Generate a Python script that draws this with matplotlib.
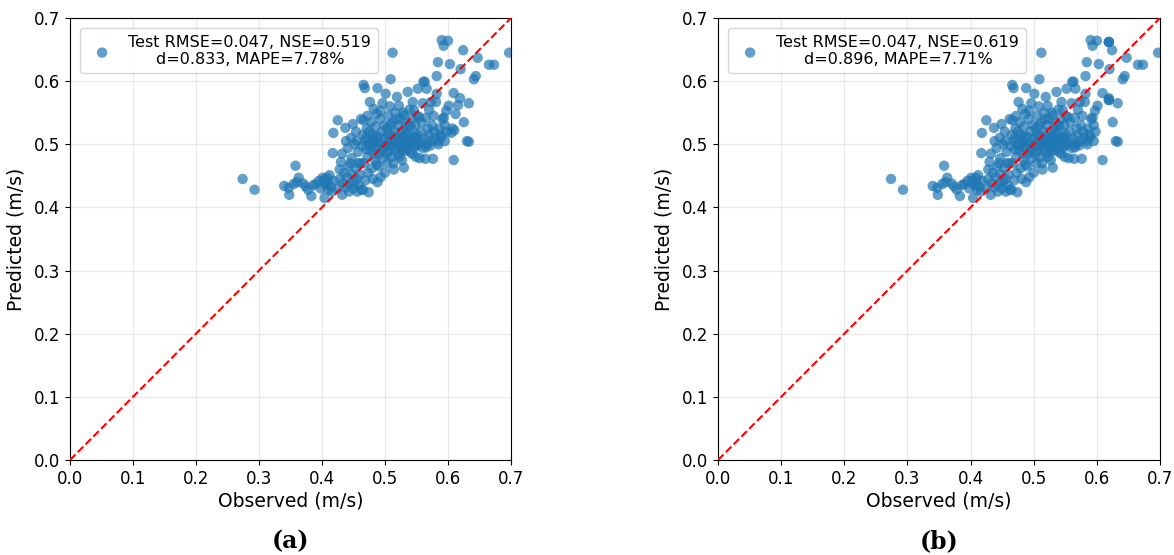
import matplotlib
matplotlib.use("Agg")
import matplotlib.pyplot as plt

# Observed / predicted values
points_a = [
    # left sparse part
    (0.274,0.445),(0.293,0.428),(0.340,0.434),(0.347,0.431),(0.348,0.420),(0.358,0.466),(0.360,0.440),
    (0.363,0.447),(0.370,0.438),(0.374,0.433),(0.383,0.418),(0.390,0.437),(0.395,0.442),(0.398,0.430),
    (0.401,0.447),(0.404,0.415),(0.405,0.436),(0.409,0.439),(0.410,0.428),(0.412,0.451),(0.414,0.433),
    (0.417,0.486),(0.418,0.518),(0.418,0.442),(0.416,0.425),(0.403,0.443),(0.408,0.447),(0.386,0.435),
    (0.378,0.428),(0.355,0.437),
    # 0.42 - 0.46
    (0.425,0.538),(0.425,0.430),(0.428,0.445),(0.430,0.472),(0.432,0.420),(0.433,0.438),(0.435,0.455),
    (0.437,0.526),(0.438,0.432),(0.440,0.448),(0.441,0.494),(0.442,0.465),(0.443,0.425),(0.445,0.438),
    (0.446,0.510),(0.447,0.478),(0.448,0.452),(0.450,0.430),(0.451,0.440),(0.452,0.500),(0.453,0.462),
    (0.454,0.520),(0.455,0.445),(0.456,0.425),(0.457,0.488),(0.458,0.470),(0.459,0.435),(0.460,0.452),
    (0.438,0.505),(0.428,0.460),(0.432,0.485),(0.445,0.470),(0.449,0.532),(0.455,0.505),
    # 0.46 - 0.50
    (0.462,0.540),(0.463,0.428),(0.464,0.497),(0.465,0.428),(0.466,0.538),(0.466,0.594),(0.467,0.470),
    (0.468,0.589),(0.469,0.443),(0.470,0.510),(0.471,0.525),(0.472,0.480),(0.473,0.455),(0.474,0.424),
    (0.475,0.500),(0.476,0.567),(0.477,0.490),(0.478,0.535),(0.479,0.462),(0.480,0.515),(0.481,0.445),
    (0.482,0.556),(0.483,0.505),(0.484,0.475),(0.485,0.528),(0.486,0.495),(0.487,0.548),(0.488,0.589),
    (0.488,0.440),(0.489,0.512),(0.490,0.465),(0.491,0.485),(0.492,0.540),(0.493,0.553),(0.493,0.448),
    (0.494,0.502),(0.495,0.520),(0.496,0.565),(0.497,0.478),(0.498,0.495),(0.499,0.530),(0.500,0.510),
    (0.500,0.455),(0.465,0.515),(0.470,0.492),(0.475,0.520),(0.480,0.505),(0.485,0.512),(0.490,0.500),
    (0.478,0.498),(0.468,0.505),(0.483,0.485),(0.495,0.490),(0.472,0.545),(0.461,0.470),(0.487,0.468),
    # 0.50 - 0.56
    (0.501,0.580),(0.502,0.498),(0.503,0.525),(0.504,0.470),(0.505,0.545),(0.506,0.505),(0.507,0.490),
    (0.508,0.560),(0.509,0.603),(0.510,0.515),(0.511,0.480),(0.512,0.645),(0.512,0.535),(0.513,0.500),
    (0.514,0.460),(0.515,0.520),(0.516,0.550),(0.517,0.492),(0.518,0.510),(0.519,0.575),(0.520,0.485),
    (0.521,0.530),(0.522,0.561),(0.523,0.505),(0.524,0.540),(0.525,0.495),(0.526,0.520),(0.527,0.475),
    (0.528,0.512),(0.529,0.550),(0.530,0.546),(0.530,0.463),(0.531,0.500),(0.532,0.525),(0.533,0.490),
    (0.534,0.535),(0.535,0.508),(0.536,0.583),(0.537,0.518),(0.538,0.498),(0.539,0.555),(0.540,0.488),
    (0.541,0.528),(0.542,0.505),(0.543,0.540),(0.544,0.567),(0.545,0.512),(0.546,0.554),(0.547,0.495),
    (0.548,0.530),(0.549,0.480),(0.550,0.515),(0.551,0.545),(0.552,0.588),(0.553,0.500),(0.554,0.543),
    (0.555,0.478),(0.556,0.520),(0.557,0.505),(0.558,0.535),(0.560,0.494),(0.560,0.565),(0.561,0.599),
    (0.505,0.515),(0.510,0.498),(0.515,0.505),(0.520,0.500),(0.525,0.510),(0.530,0.505),(0.535,0.495),
    (0.540,0.500),(0.545,0.502),(0.550,0.498),(0.503,0.485),(0.508,0.530),(0.518,0.540),(0.528,0.490),
    (0.538,0.530),(0.548,0.510),(0.513,0.470),(0.523,0.480),(0.533,0.515),(0.543,0.485),
    # 0.56 - 0.62
    (0.562,0.510),(0.563,0.599),(0.564,0.477),(0.565,0.542),(0.566,0.588),(0.567,0.500),(0.568,0.525),
    (0.570,0.515),(0.572,0.498),(0.573,0.567),(0.574,0.505),(0.576,0.477),(0.577,0.545),(0.578,0.520),
    (0.580,0.510),(0.581,0.567),(0.582,0.580),(0.582,0.608),(0.584,0.630),(0.585,0.500),(0.586,0.525),
    (0.588,0.515),(0.590,0.665),(0.591,0.540),(0.593,0.656),(0.593,0.542),(0.595,0.505),(0.597,0.553),
    (0.598,0.520),(0.600,0.664),(0.601,0.561),(0.603,0.627),(0.605,0.518),(0.607,0.525),(0.609,0.581),
    (0.609,0.475),(0.610,0.522),(0.612,0.548),(0.616,0.562),(0.619,0.573),(0.620,0.619),(0.565,0.495),
    (0.575,0.530),(0.585,0.505),(0.595,0.530),(0.570,0.555),(0.590,0.512),
    # > 0.62
    (0.624,0.649),(0.625,0.535),(0.630,0.505),(0.633,0.504),(0.633,0.565),(0.641,0.603),(0.644,0.608),
    (0.647,0.637),(0.665,0.626),(0.673,0.626),(0.697,0.645),
]
observed = [p[0] for p in points_a]
predicted_a = [p[1] for p in points_a]

# panel (b): same observations, a few predictions differ
changes_b = {(0.610,0.522):0.662, (0.612,0.548):0.662, (0.605,0.518):0.662,
             (0.616,0.562):0.570, (0.607,0.525):0.570}
predicted_b = [changes_b.get(p, p[1]) for p in points_a]
observed_b = [0.619 if p in changes_b else p[0] for p in points_a]

labels = ["Test RMSE=0.047, NSE=0.519\nd=0.833, MAPE=7.78%",
          "Test RMSE=0.047, NSE=0.619\nd=0.896, MAPE=7.71%"]
panel_tags = ["(a)", "(b)"]
ticks = [0.0, 0.1, 0.2, 0.3, 0.4, 0.5, 0.6, 0.7]

fig = plt.figure(figsize=(11.74, 5.55), dpi=100)
axes_pos = [[0.0596, 0.1712, 0.3757, 0.7964], [0.6116, 0.1712, 0.3765, 0.7964]]
data = [(observed, predicted_a), (observed_b, predicted_b)]

for i in range(2):
    ax = fig.add_axes(axes_pos[i])
    x, y = data[i]
    ax.scatter(x, y, s=56, color='#1f77b4', alpha=0.7, edgecolors='none', label=labels[i], zorder=2)
    ax.plot([0, 0.7], [0, 0.7], 'r--', lw=1.5, zorder=3)
    ax.set_xlim(0, 0.7)
    ax.set_ylim(0, 0.7)
    ax.set_xticks(ticks)
    ax.set_yticks(ticks)
    ax.tick_params(labelsize=12)
    ax.grid(True, color='#d9d9d9', alpha=0.6, lw=0.9)
    ax.set_axisbelow(True)
    ax.set_xlabel("Observed (m/s)", fontsize=13.5, labelpad=3)
    ax.set_ylabel("Predicted (m/s)", fontsize=13.5, labelpad=6)
    leg = ax.legend(loc='upper left', fontsize=11.5, handletextpad=0.65, borderpad=0.4,
                    handlelength=2.0, bbox_to_anchor=(0.004, 0.995))
    for t in leg.get_texts():
        t.set_multialignment('center')
    cx = axes_pos[i][0] + axes_pos[i][2] / 2
    fig.text(cx, 0.004, panel_tags[i], ha='center', va='bottom', fontsize=17,
             fontweight='bold', family='DejaVu Serif')

fig.savefig("out.png", dpi=100)
